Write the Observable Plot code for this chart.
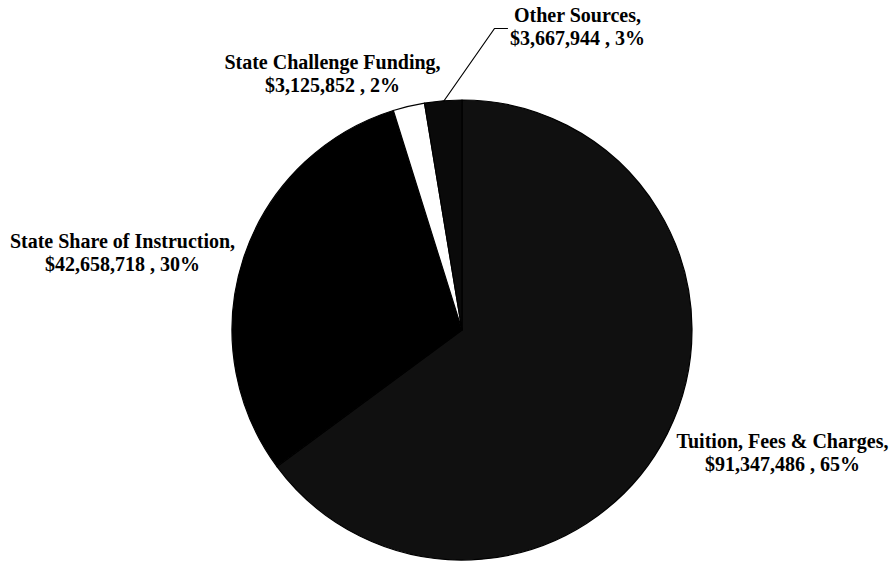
<!DOCTYPE html>
<html><head><meta charset="utf-8">
<script src="https://cdn.jsdelivr.net/npm/d3@7"></script>
<script src="https://cdn.jsdelivr.net/npm/@observablehq/plot@0.6"></script>
<style>body{margin:0;background:#fff}</style>
</head><body><div id="chart"></div>
<script>
// ---- data ----
const categories = ["Tuition, Fees & Charges", "State Share of Instruction", "State Challenge Funding", "Other Sources"];
const amounts = [91347486, 42658718, 3125852, 3667944];
const percents = [65, 30, 2, 3];

// ---- styles / layout ----
const sliceFills = ["#101010", "#000000", "#ffffff", "#0a0a0a"];
const W = 890, H = 562;
const cx = 462, cy = 330, R = 230;
const labelPos = [[782, 470], [122, 270], [332, 91], [577, 44]];
const leaderElbow = [[494, 28], [507, 28]];
const leaderFor = 3; // Other Sources

const table = categories.map((c, i) => ({category: c, amount: amounts[i], pct: percents[i], fill: sliceFills[i], lx: labelPos[i][0], ly: labelPos[i][1]}));
const arcs = d3.pie().sort(null).value(d => d.amount)(table);

function pieMark(index, scales) {
  const r = scales.x(cx + R) - scales.x(cx);
  const arc = d3.arc().innerRadius(0).outerRadius(r);
  const g = d3.create("svg:g").attr("transform", `translate(${scales.x(cx)},${scales.y(cy)})`);
  g.selectAll("path").data(arcs).join("path")
    .attr("d", arc)
    .attr("fill", d => d.data.fill)
    .attr("stroke", "#000")
    .attr("stroke-width", 1.2)
    .attr("stroke-linejoin", "round");
  return g.node();
}

const a = arcs[leaderFor];
const mid = (a.startAngle + a.endAngle) / 2;
const leader = [[cx + R * Math.sin(mid), cy - R * Math.cos(mid)], ...leaderElbow];

const fmt = d3.format(",");
const chart = Plot.plot({
  width: W, height: H,
  margin: 0,
  x: {domain: [0, W], range: [0, W], axis: null},
  y: {domain: [0, H], range: [0, H], axis: null},
  style: {background: "#fff"},
  marks: [
    pieMark,
    Plot.line(leader, {x: d => d[0], y: d => d[1], stroke: "#000", strokeWidth: 1.2}),
    Plot.text(table, {
      x: "lx", y: "ly",
      text: d => `${d.category},\n$${fmt(d.amount)} , ${d.pct}%`,
      lineAnchor: "bottom", lineHeight: 1.15,
      textAnchor: "middle",
      fontFamily: "Liberation Serif, Times New Roman, serif",
      fontWeight: "bold", fontSize: 20, fill: "#000"
    })
  ]
});
document.getElementById("chart").appendChild(chart);
</script>
</body></html>
